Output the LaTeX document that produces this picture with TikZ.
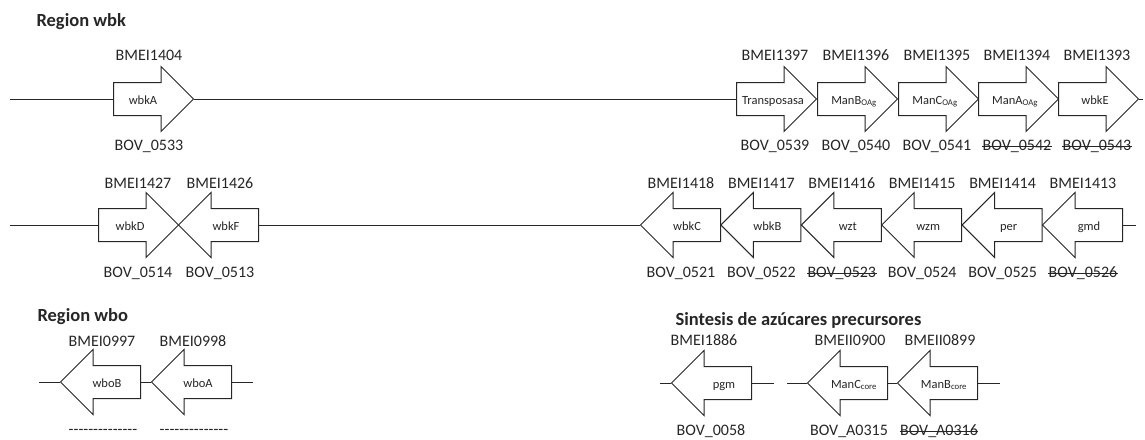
\documentclass[tikz,border=0pt]{standalone}
\usepackage{fontspec}
\setmainfont{Carlito}
\usetikzlibrary{shapes.arrows}

\tikzset{
  gene/.style={single arrow, draw=black!85, fill=white, line width=1pt,
    minimum height=80pt, minimum width=64pt, single arrow head extend=16pt,
    single arrow tip angle=90, inner xsep=0pt, inner ysep=16pt, anchor=tail},
  fwd/.style={gene},
  rev/.style={gene, shape border rotate=180},
  genename/.style={font=\fontsize{12.5}{12.5}\selectfont, text=black!85, anchor=base},
  geneid/.style={font=\fontsize{16}{16}\selectfont, text=black!85, anchor=base},
  kept/.style={},
  struck/.style={append after command={\pgfextra{\draw[black!85, line width=0.8pt]
    ([xshift=3pt,yshift=-0.5pt]\tikzlastnode.west) -- ([xshift=-3pt,yshift=-0.5pt]\tikzlastnode.east);}}},
  region/.style={font=\fontsize{18.5}{18.5}\selectfont\bfseries, text=black!85, anchor=base west},
  backbone/.style={draw=black!85, line width=1pt}
}
\newcommand\nobov{\foreach \i in {1,...,14}{-\kern0pt}}

\begin{document}
\begin{tikzpicture}[x=1pt,y=-1pt]
  \useasboundingbox (0,0) rectangle (1145,439);

  % region wbk, first line
  \node[region] (wbk) at (33,27) {Region wbk};
  \coordinate (r1s) at (10,99);
  \coordinate (r1e) at (1143,99);
  \node[fwd] (wbkA) at (113,99) {};
  \node[genename] (wbkA-t) at (143,104) {wbkA};
  \node[geneid] (wbkA-u) at (149,60) {BMEI1404};
  \node[geneid] (wbkA-d) at (149,150) {BOV\_0533};
  \foreach \g/\x/\txt/\bme/\bov/\bs in {tra/736/Transposasa/BMEI1397/BOV\_0539/kept,
      manBo/817/{ManB\textsubscript{OAg}}/BMEI1396/BOV\_0540/kept,
      manCo/898/{ManC\textsubscript{OAg}}/BMEI1395/BOV\_0541/kept,
      manAo/978/{ManA\textsubscript{OAg}}/BMEI1394/BOV\_0542/struck,
      wbkE/1058/wbkE/BMEI1393/BOV\_0543/struck}
  {
    \node[fwd] (\g) at (\x,99) {};
    \node[genename] (\g-t) at (\x+37,104) {\txt};
    \node[geneid] (\g-u) at (\x+39,60) {\bme};
    \node[geneid,\bs] (\g-d) at (\x+39,150) {\bov};
  }
  \draw[backbone] (r1s) -- (wbkA.tail) (wbkA.tip) -- (tra.tail)
    (tra.tip) -- (manBo.tail) (manBo.tip) -- (manCo.tail)
    (manCo.tip) -- (manAo.tail) (manAo.tip) -- (wbkE.tail) (wbkE.tip) -- (r1e);

  % region wbk, second line
  \coordinate (r2s) at (10,225);
  \coordinate (r2e) at (1136,225);
  \node[fwd] (wbkD) at (98,225) {};
  \node[genename] (wbkD-t) at (130,230) {wbkD};
  \node[geneid] (wbkD-u) at (138,188) {BMEI1427};
  \node[geneid] (wbkD-d) at (138,277) {BOV\_0514};
  \node[rev] (wbkF) at (259,225) {};
  \node[genename] (wbkF-t) at (226,230) {wbkF};
  \node[geneid] (wbkF-u) at (220,188) {BMEI1426};
  \node[geneid] (wbkF-d) at (220,277) {BOV\_0513};
  \foreach \g/\x/\txt/\bme/\bov/\bs in {wbkC/721/wbkC/BMEI1418/BOV\_0521/kept,
      wbkB/801.4/wbkB/BMEI1417/BOV\_0522/kept,
      wzt/881.8/wzt/BMEI1416/BOV\_0523/struck,
      wzm/962.2/wzm/BMEI1415/BOV\_0524/kept,
      per/1042.6/per/BMEI1414/BOV\_0525/kept,
      gmd/1123/gmd/BMEI1413/BOV\_0526/struck}
  {
    \node[rev] (\g) at (\x,225) {};
    \node[genename] (\g-t) at (\x-34,230) {\txt};
    \node[geneid] (\g-u) at (\x-40,188) {\bme};
    \node[geneid,\bs] (\g-d) at (\x-40,277) {\bov};
  }
  \draw[backbone] (r2s) -- (wbkD.tail) (wbkF.tail) -- (wbkC.tip)
    (wbkC.tail) -- (wbkB.tip) (wbkB.tail) -- (wzt.tip) (wzt.tail) -- (wzm.tip)
    (wzm.tail) -- (per.tip) (per.tail) -- (gmd.tip) (gmd.tail) -- (r2e);

  % region wbo
  \node[region] (wbo) at (34,321) {Region wbo};
  \coordinate (r3s) at (39,382);
  \coordinate (r3e) at (253,382);
  \foreach \g/\x/\txt/\bme in {wboB/141/wboB/BMEI0997, wboA/232/wboA/BMEI0998}
  {
    \node[rev] (\g) at (\x,382) {};
    \node[genename] (\g-t) at (\x-34,387) {\txt};
    \node[geneid] (\g-u) at (\x-39,346) {\bme};
    \node[geneid] (\g-d) at (\x-38,434) {\nobov};
  }
  \draw[backbone] (r3s) -- (wboB.tip) (wboB.tail) -- (wboA.tip) (wboA.tail) -- (r3e);

  % sugar precursors
  \node[region] (sint) at (672,325) {Sintesis de azúcares precursores};
  \coordinate (r4s) at (660,383);
  \coordinate (r4e) at (774,383);
  \coordinate (r5s) at (787,383);
  \coordinate (r5e) at (1000,383);
  \node[rev] (pgm) at (752,383) {};
  \node[genename] (pgm-t) at (724,388) {pgm};
  \node[geneid] (pgm-u) at (704,345) {BMEI1886};
  \node[geneid] (pgm-d) at (711,435) {BOV\_0058};
  \foreach \g/\x/\txt/\bme/\bov/\bs in {manCc/888/{ManC\textsubscript{core}}/BMEII0900/BOV\_A0315/kept,
      manBc/978/{ManB\textsubscript{core}}/BMEII0899/BOV\_A0316/struck}
  {
    \node[rev] (\g) at (\x,383) {};
    \node[genename] (\g-t) at (\x-34,388) {\txt};
    \node[geneid] (\g-u) at (\x-38,345) {\bme};
    \node[geneid,\bs] (\g-d) at (\x-39,435) {\bov};
  }
  \draw[backbone] (r4s) -- (pgm.tip) (pgm.tail) -- (r4e);
  \draw[backbone] (r5s) -- (manCc.tip) (manCc.tail) -- (manBc.tip) (manBc.tail) -- (r5e);
\end{tikzpicture}
\end{document}
